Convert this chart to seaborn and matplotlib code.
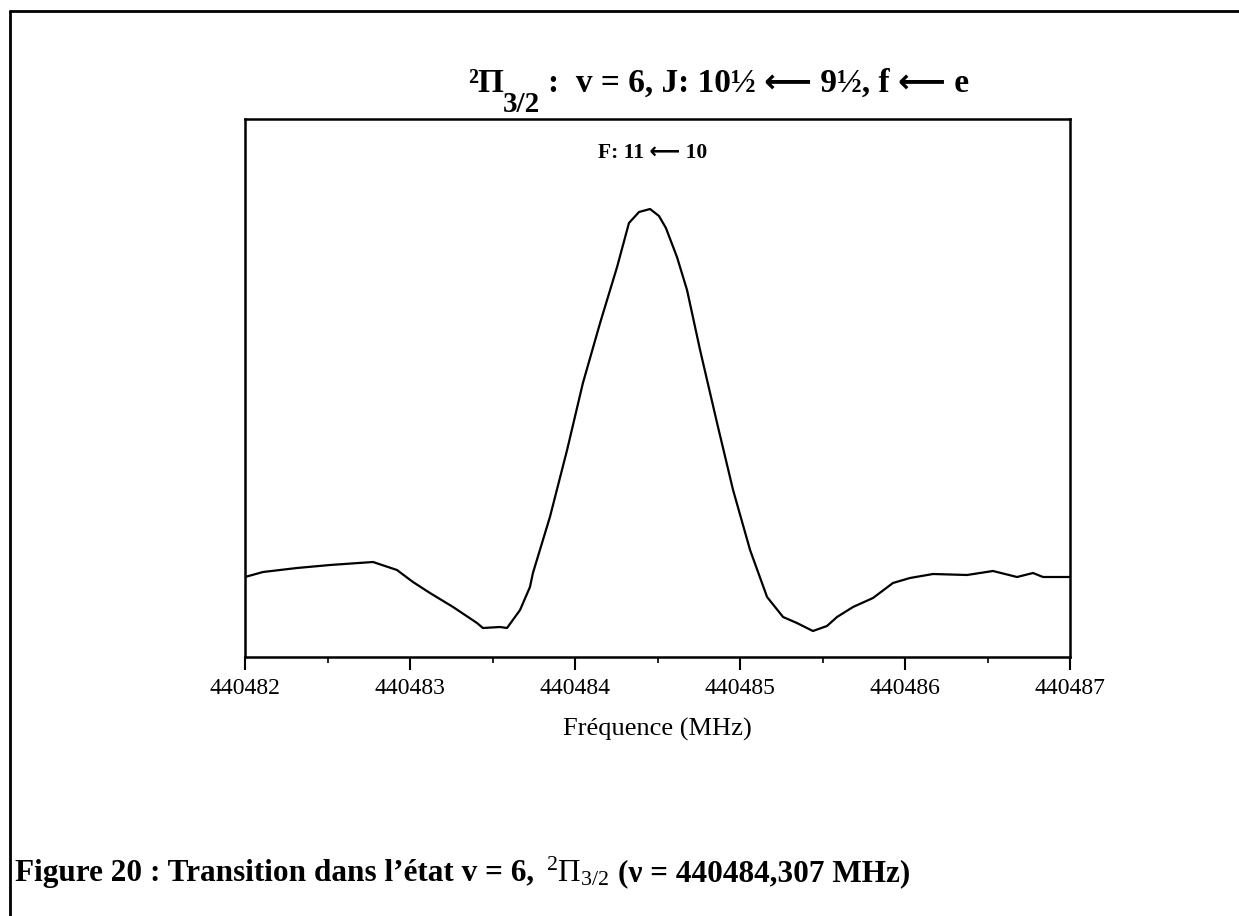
import matplotlib
matplotlib.use("Agg")
import matplotlib.pyplot as plt
from matplotlib.lines import Line2D
from matplotlib.ticker import MultipleLocator, FuncFormatter
import seaborn as sns
import pandas as pd

# ---- data ----
freq_offset = [0.000, 0.109, 0.315, 0.515, 0.776, 0.921, 1.018, 1.121, 1.261, 1.406,
               1.442, 1.545, 1.588, 1.667, 1.727, 1.745, 1.848, 1.952, 2.048, 2.152,
               2.255, 2.327, 2.388, 2.455, 2.509, 2.551, 2.618, 2.679, 2.758, 2.861,
               2.958, 3.061, 3.164, 3.261, 3.345, 3.442, 3.527, 3.588, 3.685, 3.806,
               3.927, 4.030, 4.170, 4.376, 4.533, 4.679, 4.776, 4.836, 5.000]
intensity = [80, 85, 89, 92, 95, 87, 75, 64, 50, 34,
             29, 30, 29, 47, 70, 84, 140, 207, 274, 334,
             390, 434, 445, 448, 441, 429, 400, 367, 307, 234,
             167, 107, 60, 40, 34, 26, 31, 40, 50, 59,
             74, 79, 83, 82, 86, 80, 84, 80, 80]
freq_base = 440482
xticks = [440482, 440483, 440484, 440485, 440486, 440487]

title_sym = "²Π"
title_sub = "3/2"
title_rest = ":  v = 6, J: 10½ ⟵ 9½, f ⟵ e"
inner_text = "F: 11 ⟵ 10"
xlabel_text = "Fréquence (MHz)"
caption_bold = "Figure 20 : Transition dans l’état v = 6, "
caption_sym = r"$^{2}\Pi_{3/2}$"
caption_end = "(ν = 440484,307 MHz)"

df = pd.DataFrame({"freq": [freq_base + f for f in freq_offset], "intensity": intensity})

sns.set_theme(style="white")
fams = ["Liberation Serif", "DejaVu Sans"]
plt.rcParams["font.family"] = fams
plt.rcParams["mathtext.fontset"] = "custom"
plt.rcParams["mathtext.rm"] = "Liberation Serif"
plt.rcParams["mathtext.bf"] = "Liberation Serif:bold"
plt.rcParams["mathtext.it"] = "Liberation Serif:italic"
plt.rcParams["mathtext.default"] = "rm"
for k in ["text.color", "axes.labelcolor", "xtick.color", "ytick.color", "axes.edgecolor"]:
    plt.rcParams[k] = "black"

W, H = 1239, 916
fig = plt.figure(figsize=(W / 100, H / 100), dpi=100)
fig.patch.set_facecolor("white")

ax = fig.add_axes([245 / W, 1 - 657 / H, 825 / W, 538 / H])
sns.lineplot(data=df, x="freq", y="intensity", ax=ax, color="black", lw=1.6)

ax.set_xlim(xticks[0], xticks[-1])
ax.set_ylim(0, 538)
ax.set_xticks(xticks)
ax.xaxis.set_minor_locator(MultipleLocator(0.5))
ax.xaxis.set_major_formatter(FuncFormatter(lambda v, p: f"{int(round(v))}"))
ax.set_yticks([])
ax.set_ylabel("")
ax.set_xlabel(xlabel_text, fontsize=19, labelpad=14)
ax.tick_params(axis="x", which="major", direction="out", length=9, width=1.5,
               labelsize=17, pad=6, bottom=True, colors="black")
ax.tick_params(axis="x", which="minor", direction="out", length=4, width=1.2, bottom=True)
for s in ax.spines.values():
    s.set_visible(True)
    s.set_color("black")
    s.set_linewidth(1.8)
ax.set_facecolor("white")

ax.text(0.494, 0.928, inner_text, transform=ax.transAxes, ha="center", va="baseline",
        fontsize=15.5, fontweight="bold")

fig.canvas.draw()
r = fig.canvas.get_renderer()

# title built in pieces (large lowered subscript)
tb = 1 - 92 / H
a = fig.text(468 / W, tb, title_sym, ha="left", va="baseline", fontsize=24, fontweight="bold")
ax1 = a.get_window_extent(r).x1
b = fig.text((ax1 - 1) / W, 1 - 112 / H, title_sub, ha="left", va="baseline",
             fontsize=21, fontweight="bold")
bx1 = b.get_window_extent(r).x1
fig.text((bx1 + 8) / W, tb, title_rest, ha="left", va="baseline", fontsize=24,
         fontweight="bold")

# caption
cb = 1 - 881 / H
t1 = fig.text(15 / W, cb, caption_bold, ha="left", va="baseline",
              fontsize=22.5, fontweight="bold")
bb = t1.get_window_extent(r)
t2 = fig.text((bb.x1 + 4) / W, cb, caption_sym, ha="left", va="baseline", fontsize=22.5)
bb2 = t2.get_window_extent(r)
fig.text((bb2.x1 + 8) / W, cb, caption_end, ha="left", va="baseline",
         fontsize=22.5, fontweight="bold")

# page border
fig.add_artist(Line2D([10 / W, 1.0], [1 - 11 / H, 1 - 11 / H], transform=fig.transFigure,
                      color="black", lw=2))
fig.add_artist(Line2D([10 / W, 10 / W], [0.0, 1 - 11 / H], transform=fig.transFigure,
                      color="black", lw=2))

fig.savefig("out.png", dpi=100, facecolor="white")
